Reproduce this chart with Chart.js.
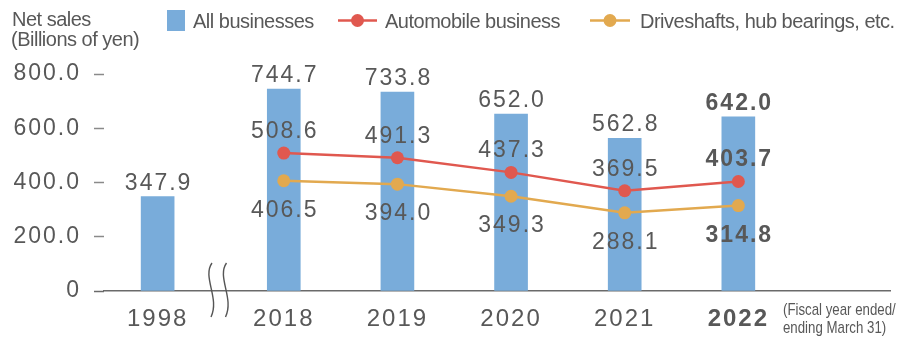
<!DOCTYPE html>
<html>
<head>
<meta charset="utf-8">
<script src="https://cdn.jsdelivr.net/npm/chart.js@4"></script>
<style>
  html, body { margin: 0; padding: 0; background: #ffffff; }
  #wrap { position: relative; width: 897px; height: 340px; }
</style>
</head>
<body>
<div id="wrap"><canvas id="c" width="897" height="340"></canvas></div>
<script>
// ---- data ----
const categories = ['1998', '2018', '2019', '2020', '2021', '2022'];
const allBusinesses = [347.9, 744.7, 733.8, 652.0, 562.8, 642.0];
const automobile = [null, 508.6, 491.3, 437.3, 369.5, 403.7];
const driveshafts = [null, 406.5, 394.0, 349.3, 288.1, 314.8];
const yTickValues = [0, 200, 400, 600, 800];
const seriesNames = ['All businesses', 'Automobile business', 'Driveshafts, hub bearings, etc.'];
const axisTitleLines = ['Net sales', '(Billions of yen)'];
const noteLines = ['(Fiscal year ended/', 'ending March 31)'];

// ---- style ----
const BREAK_GAP = 0.11;
const xPos = categories.map((c, i) => (i === 0 ? 0 : i + BREAK_GAP));
const BAR_COLOR = '#79acda';
const RED = '#e0584f';
const GOLD = '#e2a94f';
const TEXT = '#585858';
const NUM_FONT = '"Liberation Sans", Arial, sans-serif';
const lastIdx = categories.length - 1;

const toPoints = arr => arr.map((v, i) => ({ x: xPos[i], y: v }));

const spacingPlugin = {
  id: 'spacing',
  beforeLayout(chart) { chart.ctx.letterSpacing = '2px'; },
  beforeDraw(chart) { chart.ctx.letterSpacing = '2px'; }
};

const decorPlugin = {
  id: 'decor',
  afterDraw(chart) {
    const ctx = chart.ctx;
    const xs = chart.scales.x, ys = chart.scales.y;
    ctx.save();
    // data labels
    ctx.letterSpacing = '2px';
    ctx.fillStyle = TEXT;
    ctx.textAlign = 'center';
    ctx.textBaseline = 'alphabetic';
    const font = (i) => (i === lastIdx ? 'bold ' : '') + '23px ' + NUM_FONT;
    allBusinesses.forEach((v, i) => {
      if (v == null) return;
      ctx.font = font(i);
      ctx.fillText(v.toFixed(1), xs.getPixelForValue(xPos[i]) + 1, ys.getPixelForValue(v) - 7);
    });
    automobile.forEach((v, i) => {
      if (v == null) return;
      ctx.font = font(i);
      ctx.fillText(v.toFixed(1), xs.getPixelForValue(xPos[i]) + 1, ys.getPixelForValue(v) - 15);
    });
    driveshafts.forEach((v, i) => {
      if (v == null) return;
      ctx.font = font(i);
      ctx.fillText(v.toFixed(1), xs.getPixelForValue(xPos[i]) + 1, ys.getPixelForValue(v) + 36);
    });

    // axis title (top-left)
    ctx.letterSpacing = '-0.5px';
    ctx.textAlign = 'left';
    ctx.font = '20px ' + NUM_FONT;
    ctx.fillText(axisTitleLines[0], 12, 26);
    ctx.fillText(axisTitleLines[1], 11, 46);

    // legend
    ctx.fillStyle = BAR_COLOR;
    ctx.fillRect(167, 10, 18, 21);
    ctx.fillStyle = TEXT;
    ctx.fillText(seriesNames[0], 193, 28);
    const legLine = (x1, x2, color, label, tx) => {
      ctx.strokeStyle = color; ctx.lineWidth = 2.5;
      ctx.beginPath(); ctx.moveTo(x1, 20.5); ctx.lineTo(x2, 20.5); ctx.stroke();
      ctx.fillStyle = color;
      ctx.beginPath(); ctx.arc((x1 + x2) / 2, 20.5, 6.5, 0, Math.PI * 2); ctx.fill();
      ctx.fillStyle = TEXT;
      ctx.fillText(label, tx, 28);
    };
    legLine(338, 377, RED, seriesNames[1], 385);
    legLine(590, 630, GOLD, seriesNames[2], 640);

    // fiscal-year note (condensed)
    ctx.letterSpacing = '0px';
    ctx.font = '17px ' + NUM_FONT;
    ctx.save(); ctx.translate(783, 315); ctx.scale(0.78, 1); ctx.fillText(noteLines[0], 0, 0); ctx.restore();
    ctx.save(); ctx.translate(783, 333); ctx.scale(0.78, 1); ctx.fillText(noteLines[1], 0, 0); ctx.restore();

    // axis break marks
    ctx.strokeStyle = '#555';
    ctx.lineWidth = 1.4;
    [0, 14.5].forEach(dx => {
      ctx.beginPath();
      ctx.moveTo(212 + dx, 263);
      ctx.bezierCurveTo(202 + dx, 277, 220 + dx, 298, 211 + dx, 317);
      ctx.stroke();
    });
    ctx.restore();
  }
};

new Chart(document.getElementById('c'), {
  data: {
    datasets: [
      {
        type: 'line', label: seriesNames[1], data: toPoints(automobile), order: 1,
        borderColor: RED, backgroundColor: RED, borderWidth: 2.5,
        pointRadius: 6.5, pointBackgroundColor: RED, pointBorderWidth: 0
      },
      {
        type: 'line', label: seriesNames[2], data: toPoints(driveshafts), order: 1,
        borderColor: GOLD, backgroundColor: GOLD, borderWidth: 2.5,
        pointRadius: 6.5, pointBackgroundColor: GOLD, pointBorderWidth: 0
      },
      {
        type: 'bar', label: seriesNames[0], data: toPoints(allBusinesses), order: 2,
        backgroundColor: BAR_COLOR, barThickness: 33
      }
    ]
  },
  options: {
    responsive: false,
    animation: false,
    layout: { padding: { left: 0, right: 4, top: 74, bottom: 0 } },
    plugins: { legend: { display: false }, tooltip: { enabled: false } },
    scales: {
      x: {
        type: 'linear',
        offset: false,
        min: -0.472, max: 6.449,
        afterBuildTicks: s => { s.ticks = xPos.map(v => ({ value: v })); },
        afterFit: s => { s.height = 49; },
        grid: { display: false },
        border: { display: true, color: '#6a6a6a', width: 1.5 },
        ticks: {
          autoSkip: false, maxRotation: 0, padding: 6, color: TEXT,
          font: c => ({ family: NUM_FONT, size: 24, weight: c.index === lastIdx ? 'bold' : 'normal' }),
          callback: (v, i) => categories[i]
        }
      },
      y: {
        min: 0, max: 800,
        afterBuildTicks: s => { s.ticks = yTickValues.map(v => ({ value: v })); },
        afterFit: s => { s.width = 104; },
        border: { display: false },
        grid: {
          drawOnChartArea: false, drawTicks: true, tickLength: 10, tickWidth: 1.5,
          tickColor: c => (c.tick && c.tick.value === 0 ? '#6a6a6a' : '#8a8a8a')
        },
        ticks: {
          padding: 13, color: TEXT,
          font: { family: NUM_FONT, size: 23 },
          callback: v => (v === 0 ? '0' : v.toFixed(1))
        }
      }
    }
  },
  plugins: [spacingPlugin, decorPlugin]
});
</script>
</body>
</html>
